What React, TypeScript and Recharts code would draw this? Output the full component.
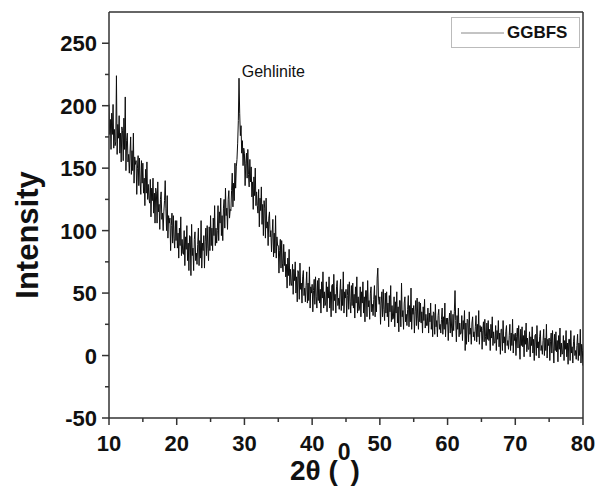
import { LineChart, Line, XAxis, YAxis, ReferenceLine, ReferenceDot, Legend } from 'recharts'

// XRD scan of GGBFS, 2θ from 10° to 80°, 0.1° step (one row per degree)
const scanStart = 10
const scanStep = 0.1

const intensity = [
    201, 177, 189, 165, 194, 177, 201, 166, 181, 168, // 10
    171, 224, 161, 185, 174, 192, 162, 178, 155, 183,
    180, 156, 190, 165, 207, 148, 172, 178, 155, 161,
    146, 162, 175, 145, 164, 148, 178, 138, 159, 153,
    156, 129, 150, 160, 136, 158, 139, 129, 156, 138,
    154, 130, 142, 120, 149, 130, 155, 125, 137, 126, // 15
    122, 141, 111, 134, 124, 142, 114, 130, 106, 134,
    130, 106, 139, 115, 121, 101, 125, 131, 109, 114,
    100, 115, 124, 140, 118, 100, 128, 94, 112, 106,
    110, 84, 104, 114, 90, 112, 94, 86, 108, 92,
    108, 86, 98, 78, 102, 88, 111, 80, 93, 82, // 20
    81, 100, 72, 95, 85, 104, 76, 90, 68, 96,
    95, 64, 105, 80, 86, 68, 93, 99, 76, 82,
    73, 89, 102, 72, 92, 78, 108, 70, 90, 84,
    96, 70, 91, 102, 80, 104, 86, 76, 103, 84,
    112, 88, 102, 84, 110, 96, 120, 88, 102, 90, // 25
    100, 120, 92, 115, 106, 126, 96, 112, 92, 118,
    125, 102, 134, 112, 118, 101, 125, 132, 110, 117,
    116, 132, 146, 119, 138, 124, 154, 134, 151, 157,
    170, 188, 222, 194, 176, 184, 162, 172, 152, 166,
    162, 136, 154, 162, 142, 165, 145, 135, 157, 139, // 30
    151, 127, 139, 117, 143, 128, 150, 120, 131, 120,
    114, 133, 103, 126, 116, 135, 105, 121, 96, 124,
    118, 94, 126, 102, 107, 88, 110, 115, 95, 100,
    83, 98, 109, 79, 98, 82, 112, 78, 95, 88,
    88, 66, 84, 93, 70, 92, 74, 67, 89, 72, // 35
    83, 63, 73, 54, 78, 64, 85, 56, 69, 58,
    56, 73, 49, 69, 60, 75, 50, 63, 43, 68,
    66, 45, 74, 53, 58, 42, 63, 68, 48, 54,
    43, 56, 67, 42, 58, 44, 71, 38, 55, 50,
    57, 35, 52, 61, 41, 63, 47, 38, 60, 44, // 40
    62, 42, 53, 34, 59, 46, 67, 38, 51, 40,
    42, 59, 35, 55, 46, 63, 38, 51, 31, 56,
    57, 36, 65, 44, 49, 34, 55, 60, 40, 46,
    37, 50, 61, 36, 53, 40, 67, 34, 51, 46,
    53, 31, 48, 57, 37, 59, 43, 34, 56, 40, // 45
    58, 38, 49, 30, 55, 42, 63, 34, 47, 36,
    38, 55, 31, 51, 42, 59, 34, 47, 27, 52,
    52, 31, 60, 39, 44, 29, 50, 55, 35, 41,
    32, 45, 56, 31, 48, 35, 62, 70, 46, 41,
    47, 25, 42, 51, 31, 53, 37, 28, 50, 34, // 50
    51, 31, 42, 23, 48, 35, 56, 27, 40, 29,
    30, 47, 23, 43, 34, 51, 26, 39, 19, 44,
    44, 23, 58, 31, 36, 21, 42, 47, 27, 33,
    24, 37, 48, 23, 40, 27, 54, 21, 38, 33,
    40, 18, 35, 44, 24, 46, 30, 21, 43, 27, // 55
    42, 26, 35, 18, 39, 28, 45, 22, 33, 24,
    24, 38, 18, 34, 27, 42, 21, 32, 15, 35,
    34, 17, 41, 23, 28, 15, 32, 37, 21, 25,
    18, 29, 38, 17, 31, 21, 42, 15, 30, 25,
    30, 12, 27, 34, 18, 36, 22, 15, 33, 20, // 60
    35, 52, 28, 11, 32, 21, 38, 15, 26, 17,
    18, 32, 12, 28, 21, 36, 4, 26, 9, 29,
    28, 11, 35, 17, 22, 9, 26, 31, 15, 19,
    12, 23, 32, 11, 25, 15, 36, 9, 24, 19,
    23, 5, 20, 27, 11, 29, 15, 8, 26, 13, // 65
    28, 12, 21, 4, 25, 14, 31, 8, 19, 10,
    10, 24, 4, 20, 13, 28, 7, 18, 1, 21,
    21, 4, 28, 10, 15, 2, 19, 24, 8, 12,
    5, 16, 25, 4, 18, 8, 29, 2, 17, 12,
    18, 0, 15, 22, 6, 24, 10, -3, 21, 8, // 70
    23, 7, 16, -1, 20, 9, 26, 3, 14, 5,
    5, 19, -1, 15, 8, 23, 2, 13, -4, 16,
    17, 0, 24, 6, 11, -2, 15, 20, 4, 8,
    1, 12, 21, 0, 14, 4, 25, -2, 13, 8,
    14, -4, 11, 18, 2, 20, 6, -6, 17, 4, // 75
    19, 3, 12, -5, 16, 5, 22, -1, 10, 1,
    2, 16, -4, 12, 5, 20, -1, 10, -7, 13,
    13, -4, 20, 2, 7, -6, 11, 16, 0, 4,
    -3, 8, 17, -4, 10, 0, 21, -6, 9, 4,
    -8, // 80
]

const xMajor = [10, 20, 30, 40, 50, 60, 70, 80]
const xMinor = [15, 25, 35, 45, 55, 65, 75]
const yMajor = [-50, 0, 50, 100, 150, 200, 250]
const yMinor = [-25, 25, 75, 125, 175, 225]

const peakLabel = { t: 29.6, i: 223, text: 'Gehlinite' }
const seriesName = 'GGBFS'

const data = intensity.map((v, k) => ({ t: +(scanStart + k * scanStep).toFixed(2), i: v }))

const font = 'Arial, "Liberation Sans", sans-serif'
const axisColor = '#333'

function XTick(props: any) {
    const { x, y, payload } = props
    const major = xMajor.includes(payload.value)
    return (
        <g>
            <line x1={x} x2={x} y1={y} y2={y + (major ? 7 : 4)} stroke={axisColor} strokeWidth={1.5} />
            {major && (
                <text x={x} y={y + 33} textAnchor="middle" fontFamily={font} fontWeight="bold" fontSize={22} fill="#111">
                    {payload.value}
                </text>
            )}
        </g>
    )
}

function YTick(props: any) {
    const { x, y, payload } = props
    const major = yMajor.includes(payload.value)
    return (
        <g>
            <line x1={x - (major ? 7 : 4)} x2={x} y1={y} y2={y} stroke={axisColor} strokeWidth={1.5} />
            {major && (
                <text x={x - 12} y={y + 8} textAnchor="end" fontFamily={font} fontWeight="bold" fontSize={22} fill="#111">
                    {payload.value}
                </text>
            )}
        </g>
    )
}

function XTitle() {
    return (
        <text x={290} y={480} fontFamily={font} fontWeight="bold" fontSize={28} fill="#111">
            2θ (
            <tspan fontSize={23} dy={-20}>0</tspan>
            <tspan dy={20}>)</tspan>
        </text>
    )
}

function YTitle() {
    return (
        <text
            transform="translate(38, 235) rotate(-90)"
            textAnchor="middle"
            fontFamily={font}
            fontWeight="bold"
            fontSize={31}
            fill="#111"
        >
            Intensity
        </text>
    )
}

function LegendBox() {
    return (
        <div
            style={{
                width: 127,
                height: 29,
                border: '1px solid #bbb',
                background: '#fff',
                display: 'flex',
                alignItems: 'center',
                fontFamily: font,
            }}
        >
            <svg width={52} height={29}>
                <line x1={9} x2={52} y1={15} y2={15} stroke="#888" strokeWidth={1} />
            </svg>
            <span style={{ fontWeight: 'bold', fontSize: 17, color: '#111', marginLeft: 3 }}>{seriesName}</span>
        </div>
    )
}

export default function App() {
    return (
        <div style={{ position: 'absolute', left: 0, top: 0, background: '#fff' }}>
            <LineChart width={597} height={486} data={data} margin={{ top: 12, right: 14, bottom: 0, left: 0 }}>
                <XAxis
                    dataKey="t"
                    type="number"
                    domain={[10, 80]}
                    ticks={[...xMajor, ...xMinor].sort((a, b) => a - b)}
                    interval={0}
                    height={68}
                    tickSize={0}
                    tickMargin={0}
                    tickLine={false}
                    tick={<XTick />}
                    stroke={axisColor}
                    strokeWidth={1.5}
                    allowDataOverflow
                    label={<XTitle />}
                />
                <YAxis
                    type="number"
                    domain={[-50, 275]}
                    ticks={[...yMajor, ...yMinor].sort((a, b) => a - b)}
                    interval={0}
                    width={109}
                    tickSize={0}
                    tickMargin={0}
                    tickLine={false}
                    tick={<YTick />}
                    stroke={axisColor}
                    strokeWidth={1.5}
                    allowDataOverflow
                    label={<YTitle />}
                />
                <ReferenceLine y={275} stroke={axisColor} strokeWidth={1.5} />
                <ReferenceLine x={80} stroke={axisColor} strokeWidth={1.5} />
                <Line
                    type="linear"
                    dataKey="i"
                    name={seriesName}
                    stroke="#0d0d0d"
                    strokeWidth={1}
                    dot={false}
                    isAnimationActive={false}
                />
                <ReferenceDot
                    x={peakLabel.t}
                    y={peakLabel.i}
                    r={0}
                    shape={(p: any) => (
                        <text x={p.cx} y={p.cy} fontFamily={font} fontSize={16} fill="#111">
                            {peakLabel.text}
                        </text>
                    )}
                />
                <Legend
                    layout="vertical"
                    align="center"
                    verticalAlign="middle"
                    content={<LegendBox />}
                    wrapperStyle={{ top: 17, left: 451, width: 129, height: 31 }}
                />
            </LineChart>
        </div>
    )
}
